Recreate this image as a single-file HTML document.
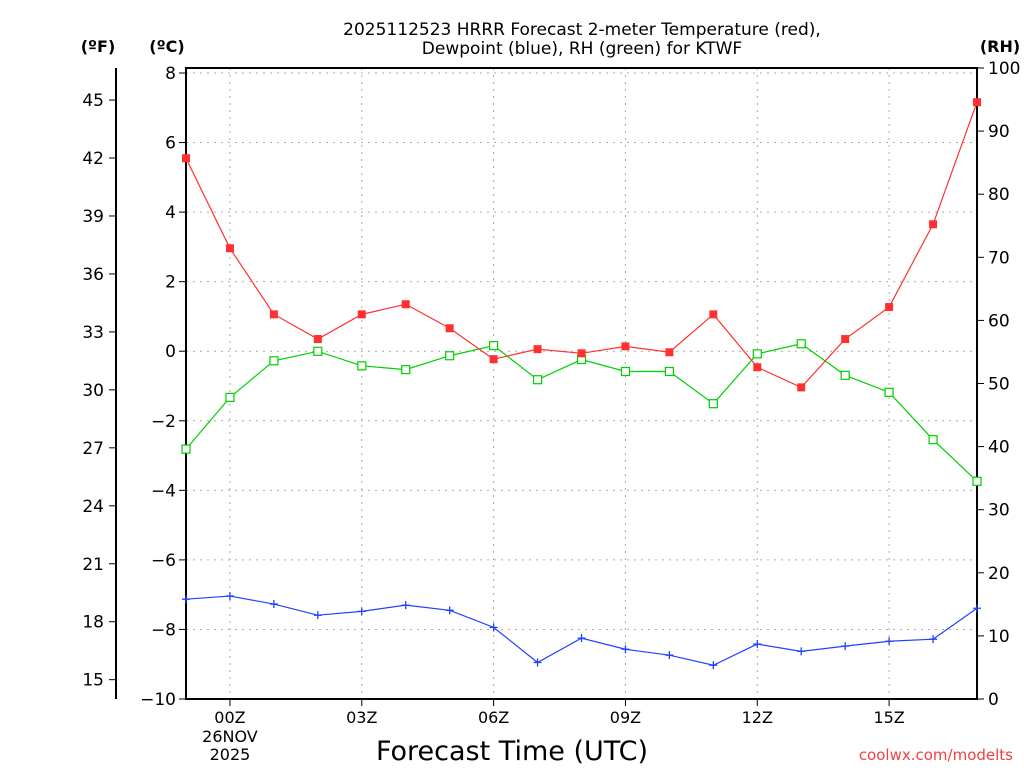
<!DOCTYPE html>
<html><head><meta charset="utf-8"><style>
body{margin:0;background:#fff;width:1024px;height:768px;overflow:hidden}
svg{font-family:"DejaVu Sans","Liberation Sans",sans-serif}
</style></head><body>
<svg id="c" width="1024" height="768" xmlns="http://www.w3.org/2000/svg">
<text x="582" y="35" text-anchor="middle" font-size="17">2025112523 HRRR Forecast 2-meter Temperature (red),</text>
<text x="582" y="54" text-anchor="middle" font-size="17">Dewpoint (blue), RH (green) for KTWF</text>
<text x="98" y="52" text-anchor="middle" font-size="16" font-weight="bold">(ºF)</text>
<text x="167" y="52" text-anchor="middle" font-size="16" font-weight="bold">(ºC)</text>
<text x="1000" y="52" text-anchor="middle" font-size="16" font-weight="bold">(RH)</text>
<text x="512" y="760" text-anchor="middle" font-size="27">Forecast Time (UTC)</text>
<text x="1013" y="760" text-anchor="end" font-size="15" fill="#f04040">coolwx.com/modelts</text>
<g id="g"></g>
</svg>
<script>
const hours=[-1,0,1,2,3,4,5,6,7,8,9,10,11,12,13,14,15,16,17];
const tempC=[5.55,2.96,1.06,0.35,1.06,1.35,0.66,-0.23,0.06,-0.06,0.14,-0.03,1.06,-0.46,-1.04,0.35,1.27,3.65,7.16];
const dewC=[-7.13,-7.04,-7.27,-7.59,-7.48,-7.30,-7.45,-7.94,-8.95,-8.25,-8.57,-8.74,-9.03,-8.42,-8.63,-8.48,-8.34,-8.28,-7.39];
const rh=[39.6,47.8,53.6,55.1,52.8,52.2,54.4,56.0,50.6,53.8,51.9,51.9,46.8,54.7,56.3,51.3,48.6,41.1,34.5];
const cTicks=[8,6,4,2,0,-2,-4,-6,-8,-10];
const fTicks=[45,42,39,36,33,30,27,24,21,18,15];
const rhTicks=[100,90,80,70,60,50,40,30,20,10,0];
const xTicks=[0,3,6,9,12,15];
const xLabels=["00Z","03Z","06Z","09Z","12Z","15Z"];
const L=186,R=977,T=68,B=699;
const X=h=>L+(h+1)*(R-L)/18;
const YC=c=>699-(c+10)*(699-73)/18;
const YF=f=>YC((f-32)*5/9);
const YR=r=>B-r*(B-T)/100;
const NS="http://www.w3.org/2000/svg";
const g=document.getElementById('g');
function el(t,a,txt){const e=document.createElementNS(NS,t);for(const k in a)e.setAttribute(k,a[k]);if(txt!==undefined)e.textContent=txt;g.appendChild(e);return e;}
cTicks.forEach(c=>{const y=YC(c);
 if(c>-10){const l=el('line',{x1:L,x2:R,y1:y,y2:y,stroke:'#aaa','stroke-dasharray':'2,5'});}
 const t=el('line',{x1:L-7,x2:L,y1:y,y2:y,stroke:'#000'});
 const s=el('text',{x:L-10,y:y+6,'text-anchor':'end','font-size':17},c<0?'\u2212'+(-c):String(c));});
xTicks.forEach((h,i)=>{const x=X(h);
 const l=el('line',{x1:x,x2:x,y1:T,y2:B,stroke:'#aaa','stroke-dasharray':'2,5'});
 const t=el('line',{x1:x,x2:x,y1:B,y2:B+7,stroke:'#000'});
 const s=el('text',{x:x,y:723,'text-anchor':'middle','font-size':16},xLabels[i]);});
[["26NOV",742],["2025",760]].forEach(([t,y])=>{const s=el('text',{x:X(0),y:y,'text-anchor':'middle','font-size':16},t);});
fTicks.forEach(f=>{const y=YF(f);
 const t=el('line',{x1:109,x2:116,y1:y,y2:y,stroke:'#000'});
 const s=el('text',{x:104,y:y+6,'text-anchor':'end','font-size':17},String(f));});
rhTicks.forEach(r=>{const y=YR(r);
 const t=el('line',{x1:R,x2:R+7,y1:y,y2:y,stroke:'#000'});
 const s=el('text',{x:988,y:y+6,'font-size':17},String(r));});
const fa=el('line',{x1:116,x2:116,y1:68,y2:699,stroke:'#000','stroke-width':2});
const fr=el('rect',{x:L,y:T,width:R-L,height:B-T,fill:'none',stroke:'#000','stroke-width':2});
function series(vals,yf,color,name,marker){
 const p=el('polyline',{points:vals.map((v,i)=>X(hours[i])+','+yf(v)).join(' '),fill:'none',stroke:color,'stroke-width':1.2});
 
 vals.forEach((v,i)=>{const x=X(hours[i]),y=yf(v);let m;
  if(marker==='fill')m=el('rect',{x:x-4,y:y-4,width:8,height:8,fill:color});
  else if(marker==='open')m=el('rect',{x:x-4,y:y-4,width:8,height:8,fill:'#fff',stroke:color,'stroke-width':1.2});
  else m=el('path',{d:`M${x-4} ${y}H${x+4}M${x} ${y-4}V${y+4}`,stroke:color,'stroke-width':1.3});
  });
}
series(rh,YR,'#00d000','rh','open');
series(dewC,YC,'#2040ff','dewpoint','plus');
series(tempC,YC,'#ff3030','temperature','fill');
</script>
</body></html>
